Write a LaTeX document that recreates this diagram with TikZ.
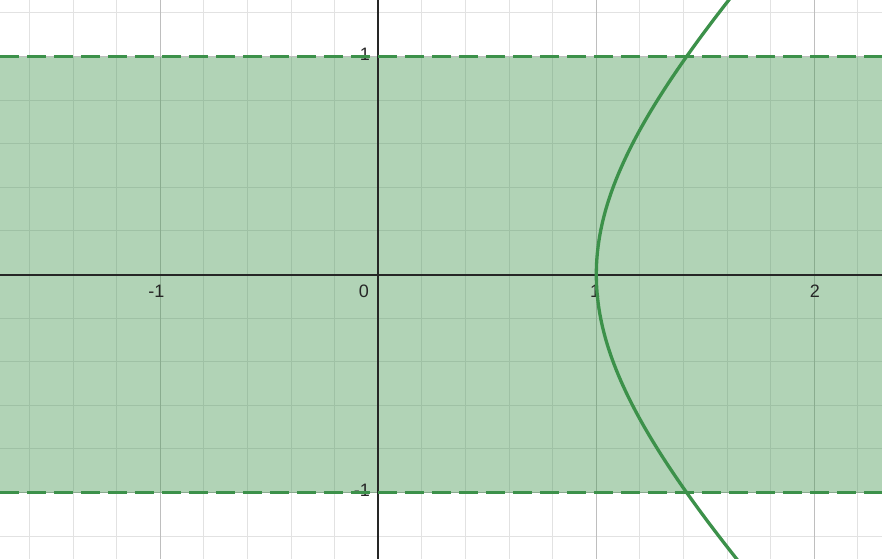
\documentclass[tikz,border=0pt]{standalone}
\usepackage{fontspec}
\setmainfont{Liberation Sans}
\definecolor{dgreen}{RGB}{60,145,74}
\definecolor{minorgrid}{RGB}{226,226,226}
\definecolor{majorgrid}{RGB}{190,190,190}
\tikzset{
  minorline/.style={draw=minorgrid, line width=1pt},
  majorline/.style={draw=majorgrid, line width=1.2pt},
  axisline/.style={draw=black!85, line width=2pt},
  bandline/.style={draw=dgreen, line width=3.5pt, dash pattern=on 19pt off 8pt},
  curveline/.style={draw=dgreen, line width=3.3pt},
  ticklabel/.style={font=\fontsize{18}{20}\selectfont, text=black!85, inner sep=0pt}
}
\begin{document}
\begin{tikzpicture}[x=218pt,y=218pt]
\def\xl{-1.7353}\def\xr{2.3106}\def\yb{-1.305}\def\yt{1.2592}
\useasboundingbox (\xl,\yb) rectangle (\xr,\yt);
\fill[white] (\xl,\yb) rectangle (\xr,\yt);
% minor grid
\foreach \i in {-8,...,11} {\draw[minorline] (\i*0.2,\yb) -- (\i*0.2,\yt);}
\foreach \j in {-6,...,6} {\draw[minorline] (\xl,\j*0.2) -- (\xr,\j*0.2);}
% major grid
\foreach \i in {-1,1,2} {\draw[majorline] (\i,\yb) -- (\i,\yt);}
\foreach \j in {-1,1} {\draw[majorline] (\xl,\j) -- (\xr,\j);}
% band fill
\fill[dgreen, fill opacity=0.4] (\xl,-1) rectangle (\xr,1);
% axes
\draw[axisline] (\xl,0) -- (\xr,0);
\draw[axisline] (0,\yb) -- (0,\yt);
% labels
\node[ticklabel] (lxm1) at (-1.018,-0.075) {-1};
\node[ticklabel] (lx0) at (-0.066,-0.075) {0};
\node[ticklabel] (lx1) at (0.995,-0.075) {1};
\node[ticklabel] (lx2) at (2.003,-0.075) {2};
\node[ticklabel] (ly1) at (-0.061,1.011) {1};
\node[ticklabel] (lym1) at (-0.075,-0.991) {-1};
% band edges
\draw[bandline] (\xl,1) -- (\xr,1);
\draw[bandline] (\xl,-1) -- (\xr,-1);
% hyperbola
\begin{scope}
\clip (\xl,\yb) rectangle (\xr,\yt);
\draw[curveline, smooth, samples=80, domain=-1.25:1.25] plot ({cosh(\x)},{sinh(\x)});
\end{scope}
\end{tikzpicture}
\end{document}
